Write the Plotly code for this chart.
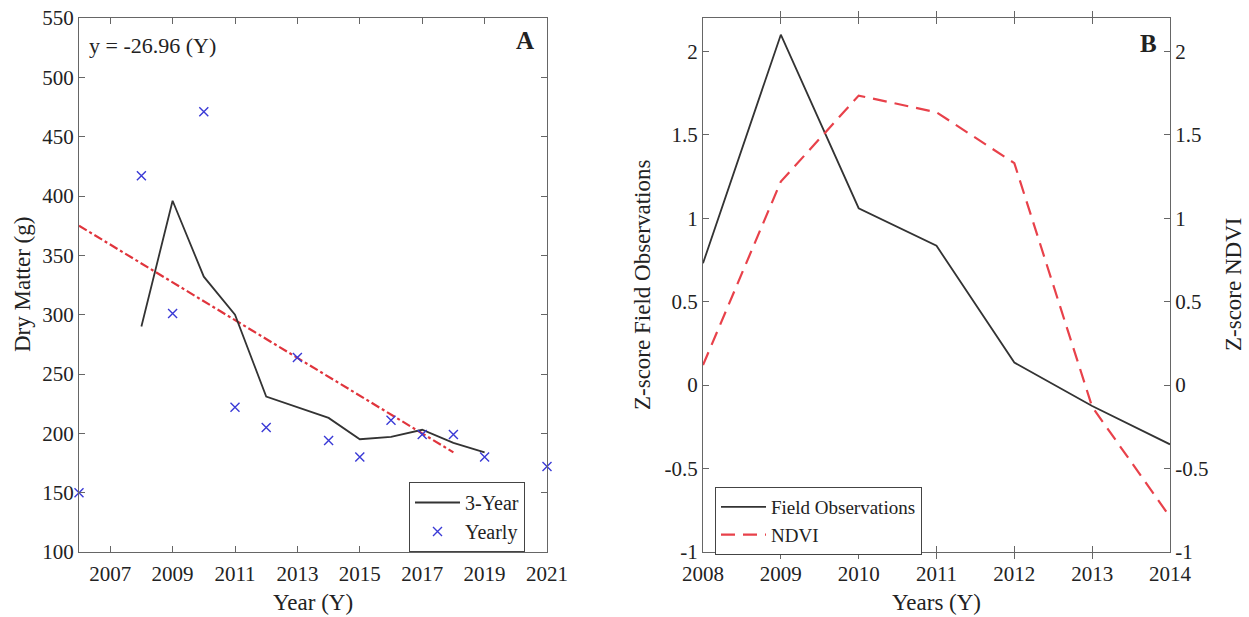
import plotly.graph_objects as go

# ---------------- Data ----------------
# Panel A
yearly_years = [2006, 2008, 2009, 2010, 2011, 2012, 2013, 2014, 2015, 2016, 2017, 2018, 2019, 2021]
yearly_values = [150, 417, 301, 471, 222, 205, 264, 194, 180, 211, 199, 199, 180, 172]
three_year_years = [2008, 2009, 2010, 2011, 2012, 2013, 2014, 2015, 2016, 2017, 2018, 2019]
three_year_values = [290, 396, 332, 300, 231, 222, 213, 195, 197, 203, 192, 184]
trend_years = [2006, 2018]
trend_values = [375, 184]
a_xticks = [2007, 2009, 2011, 2013, 2015, 2017, 2019, 2021]
a_yticks = [100, 150, 200, 250, 300, 350, 400, 450, 500, 550]

# Panel B
b_years = [2008, 2009, 2010, 2011, 2012, 2013, 2014]
field_obs = [0.73, 2.1, 1.06, 0.835, 0.135, -0.125, -0.355]
ndvi = [0.12, 1.22, 1.735, 1.635, 1.33, -0.13, -0.79]
b_yticks = [-1, -0.5, 0, 0.5, 1, 1.5, 2]
b_yticklabels = ["-1", "-0.5", "0", "0.5", "1", "1.5", "2"]

# ---------------- Styling ----------------
FONT = "Liberation Serif, Times New Roman, serif"
TXT = "#222222"
AXC = "#666666"
W, H = 1249, 617

def px_x(p):
    return p / W

def px_y(p):
    return 1 - p / H

dom_y = [px_y(552), px_y(18)]
dom_xa = [px_x(79), px_x(547)]
dom_xb = [px_x(703), px_x(1170)]

fig = go.Figure()

# Panel A traces
fig.add_trace(go.Scatter(
    x=trend_years, y=trend_values, mode="lines",
    line=dict(color="#e0343c", width=2.2, dash="dashdot"),
    showlegend=False, xaxis="x", yaxis="y", name="Trend"))
fig.add_trace(go.Scatter(
    x=three_year_years, y=three_year_values, mode="lines",
    line=dict(color="#333333", width=1.8),
    name="3-Year", legend="legend", xaxis="x", yaxis="y"))
fig.add_trace(go.Scatter(
    x=yearly_years, y=yearly_values, mode="markers",
    marker=dict(symbol="x-thin-open", size=9, line=dict(color="#3a3ad6", width=1.4), color="#3a3ad6"),
    name="Yearly", legend="legend", xaxis="x", yaxis="y", cliponaxis=False))

# Panel B traces
fig.add_trace(go.Scatter(
    x=b_years, y=field_obs, mode="lines",
    line=dict(color="#333333", width=1.8),
    name="Field Observations", legend="legend2", xaxis="x2", yaxis="y2"))
fig.add_trace(go.Scatter(
    x=b_years, y=ndvi, mode="lines",
    line=dict(color="#e8414a", width=2.2, dash="14px,8px"),
    name="NDVI", legend="legend2", xaxis="x2", yaxis="y3"))

axis_common = dict(
    showline=True, linecolor=AXC, linewidth=1.2,
    ticks="inside", ticklen=6, tickcolor=AXC, tickwidth=1,
    showgrid=False, zeroline=False, automargin=False,
    tickfont=dict(family=FONT, size=21, color=TXT),
)

fig.update_layout(
    width=W, height=H,
    margin=dict(l=0, r=0, t=0, b=0, pad=0),
    paper_bgcolor="white", plot_bgcolor="white",
    font=dict(family=FONT, color=TXT),
    xaxis=dict(domain=dom_xa, range=[2006, 2021], tickvals=a_xticks, mirror="allticks",
               anchor="y", ticklabelstandoff=3, **axis_common),
    yaxis=dict(domain=dom_y, range=[100, 550], tickvals=a_yticks, mirror="allticks",
               anchor="x", **axis_common),
    xaxis2=dict(domain=dom_xb, range=[2008, 2014], tickvals=b_years, mirror="allticks",
                anchor="y2", ticklabelstandoff=3, **axis_common),
    yaxis2=dict(domain=dom_y, range=[-1, 2.2], tickvals=b_yticks, ticktext=b_yticklabels,
                anchor="x2", mirror=False, **axis_common),
    yaxis3=dict(range=[-1, 2.2], tickvals=b_yticks, ticktext=b_yticklabels,
                overlaying="y2", side="right", anchor="x2", **axis_common),
    legend=dict(x=px_x(409), y=px_y(482), xanchor="left", yanchor="top",
                bordercolor="#444444", borderwidth=1, bgcolor="white", itemwidth=45,
                font=dict(family=FONT, size=20, color=TXT), tracegroupgap=0),
    legend2=dict(x=px_x(715), y=px_y(487), xanchor="left", yanchor="top",
                 bordercolor="#444444", borderwidth=1, bgcolor="white", itemwidth=45,
                 font=dict(family=FONT, size=19, color=TXT), tracegroupgap=0),
)

ann = [
    dict(text="y = -26.96 (Y)", x=px_x(87), y=px_y(46), xanchor="left", yanchor="middle",
         font=dict(size=22)),
    dict(text="<b>A</b>", x=px_x(525), y=px_y(41), xanchor="center", yanchor="middle",
         font=dict(size=25)),
    dict(text="<b>B</b>", x=px_x(1148), y=px_y(43), xanchor="center", yanchor="middle",
         font=dict(size=25)),
    dict(text="Dry Matter (g)", x=px_x(22), y=px_y(285), textangle=-90,
         xanchor="center", yanchor="middle", font=dict(size=23)),
    dict(text="Year (Y)", x=px_x(313), y=px_y(602), xanchor="center", yanchor="middle",
         font=dict(size=23)),
    dict(text="Z-score Field Observations", x=px_x(642), y=px_y(285), textangle=-90,
         xanchor="center", yanchor="middle", font=dict(size=23)),
    dict(text="Years (Y)", x=px_x(936), y=px_y(602), xanchor="center", yanchor="middle",
         font=dict(size=23)),
    dict(text="Z-score NDVI", x=px_x(1233), y=px_y(285), textangle=-90,
         xanchor="center", yanchor="middle", font=dict(size=23)),
]
for a in ann:
    a.update(xref="paper", yref="paper", showarrow=False)
    a["font"].update(family=FONT, color=TXT)
fig.update_layout(annotations=ann)

fig.write_html("out.html")
